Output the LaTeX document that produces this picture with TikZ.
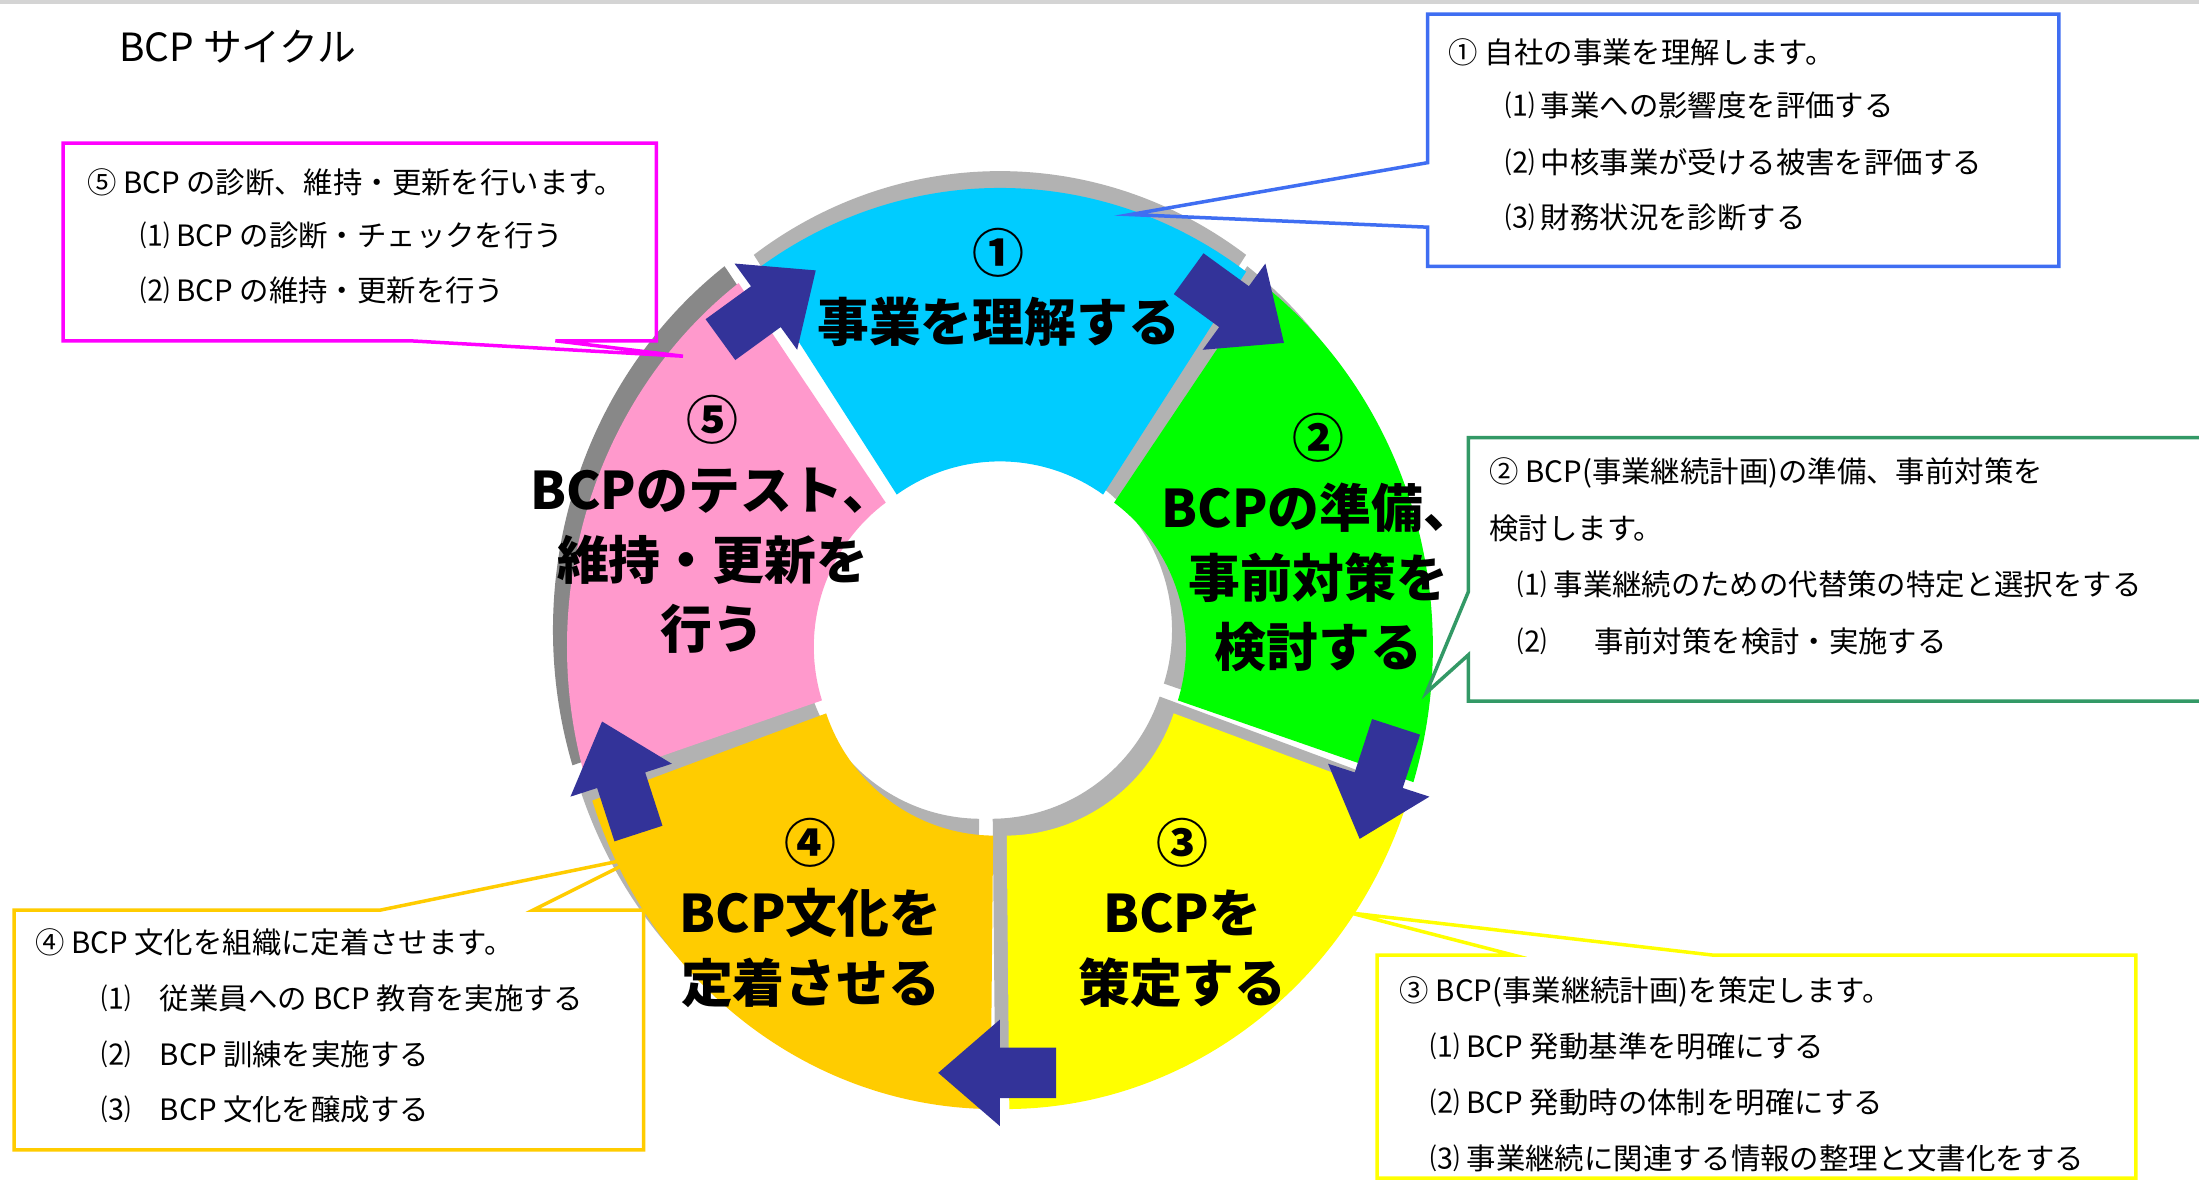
\documentclass[tikz,border=0pt]{standalone}
\usepackage{fontspec}
\setmainfont{Noto Sans CJK JP}
\definecolor{cyanseg}{HTML}{00CCFF}
\definecolor{greenseg}{HTML}{00FF00}
\definecolor{yellowseg}{HTML}{FFFF00}
\definecolor{orangeseg}{HTML}{FFCC00}
\definecolor{pinkseg}{HTML}{FF99CC}
\definecolor{arrowblue}{HTML}{333399}
\definecolor{shlight}{HTML}{B2B2B2}
\definecolor{shdark}{HTML}{888888}
\definecolor{bluebox}{HTML}{3F6EF2}
\definecolor{greenbox}{HTML}{339966}
\definecolor{yellowbox}{HTML}{FFFF00}
\definecolor{orangebox}{HTML}{FFCC00}
\definecolor{magentabox}{HTML}{FF00FF}
\definecolor{topgray}{HTML}{D4D4D4}
\tikzset{
  boxtext/.style={anchor=west, inner sep=0pt, font=\fontsize{29.5}{35}\selectfont},
  ringtext/.style={align=center, inner sep=0pt, font=\fontsize{52}{70}\selectfont\bfseries},
  titletext/.style={anchor=west, inner sep=0pt, font=\fontsize{39}{45}\selectfont},
  callout/.style={line width=3.5bp, line join=miter},
  blockarrow/.style={fill=arrowblue},
}
\begin{document}
\begin{tikzpicture}[x=1.4024bp, y=1.4024bp]
\fill[white] (0,0) rectangle (1568,843);
\useasboundingbox (0,0) rectangle (1568,843);
\fill[topgray] (0,840) rectangle (1568,843);

% title
\node[titletext] (title) at (85,810) {BCP サイクル};

% ring
\begin{scope}[shift={(713,380)}]
  % shadows (3D sides)
  \foreach \s/\m/\c/\dx in {54/90/shlight/0,126/162/shdark/-10,198/234/shlight/-10,270/306/shlight/-10,-18/18/shlight/-10}{
    \fill[\c, shift={(\m:6)}, shift={(\dx,12)}]
      (\s+0.6:303 and 323) arc[start angle=\s+0.6, end angle=\s+71.4, x radius=303, y radius=323]
      -- (\s+71.4:127 and 128) arc[start angle=\s+71.4, end angle=\s+0.6, x radius=127, y radius=128] -- cycle;
  }
  % coloured segments
  \foreach \s/\m/\c in {54/90/cyanseg,126/162/pinkseg,198/234/orangeseg,270/306/yellowseg,-18/18/greenseg}{
    \fill[\c, shift={(\m:6)}]
      (\s+0.6:303 and 323) arc[start angle=\s+0.6, end angle=\s+71.4, x radius=303, y radius=323]
      -- (\s+71.4:127 and 128) arc[start angle=\s+71.4, end angle=\s+0.6, x radius=127, y radius=128] -- cycle;
  }
  % block arrows (clockwise)
  \foreach \b in {126,54,-18,270,198}{
    \begin{scope}[shift={(\b:284 and 302)}, rotate=\b-90]
      \fill[blockarrow] (-40,-18) -- (0,-18) -- (0,-38) -- (44,0) -- (0,38) -- (0,18) -- (-40,18) -- cycle;
    \end{scope}
  }
\end{scope}

% ring labels
\node[ringtext] (t1) at (712,638) {①\\事業を理解する};
\node[ringtext] (t2) at (940,456) {②\\BCPの準備、\\事前対策を\\検討する};
\node[ringtext] (t3) at (843,192) {③\\BCPを\\策定する};
\node[ringtext] (t4) at (578,192) {④\\BCP文化を\\定着させる};
\node[ringtext] (t5) at (508,469) {⑤\\BCPのテスト、\\維持・更新を\\行う};

% callout tips
\coordinate (tip1) at (806,690);
\coordinate (tip2) at (1017,349);
\coordinate (tip3) at (963,192);
\coordinate (tip4) at (456,232);
\coordinate (tip5) at (487,589);

% callout outlines
\draw[callout, bluebox] (1018,833) -- (1468,833) -- (1468,653) -- (1018,653) -- (1018,681) -- (tip1) -- (1018,727) -- cycle;
\draw[callout, greenbox] (1047,531) -- (1580,531) -- (1580,343) -- (1047,343) -- (1047,376) -- (tip2) -- (1047,421) -- cycle;
\draw[callout, yellowbox] (982,162) -- (1079,162) -- (tip3) -- (1221,162) -- (1523,162) -- (1523,3) -- (982,3) -- cycle;
\draw[callout, orangebox] (10,194) -- (271,194) -- (tip4) -- (380,194) -- (459,194) -- (459,23) -- (10,23) -- cycle;
\draw[callout, magentabox] (45,741) -- (468,741) -- (468,600) -- (396,600) -- (tip5) -- (292,600) -- (45,600) -- cycle;

% box 1 text
\node[boxtext] (b1a) at (1033,806) {① 自社の事業を理解します。};
\node[boxtext] (b1b) at (1073,768) {⑴ 事業への影響度を評価する};
\node[boxtext] (b1c) at (1073,727) {⑵ 中核事業が受ける被害を評価する};
\node[boxtext] (b1d) at (1073,688) {⑶ 財務状況を診断する};

% box 5 text
\node[boxtext] (b5a) at (62,713) {⑤ BCP の診断、維持・更新を行います。};
\node[boxtext] (b5b) at (100,675) {⑴ BCP の診断・チェックを行う};
\node[boxtext] (b5c) at (100,636) {⑵ BCP の維持・更新を行う};

% box 2 text
\node[boxtext] (b2a) at (1062,506) {② BCP(事業継続計画)の準備、事前対策を};
\node[boxtext] (b2b) at (1062,466) {検討します。};
\node[boxtext] (b2c) at (1082,426) {⑴ 事業継続のための代替策の特定と選択をする};
\node[boxtext] (b2d) at (1082,386) {⑵　\hspace{0.6em}事前対策を検討・実施する};

% box 4 text
\node[boxtext] (b4a) at (25,171) {④ BCP 文化を組織に定着させます。};
\node[boxtext] (b4b) at (72,131) {⑴　従業員への BCP 教育を実施する};
\node[boxtext] (b4c) at (72,91) {⑵　BCP 訓練を実施する};
\node[boxtext] (b4d) at (72,52) {⑶　BCP 文化を醸成する};

% box 3 text
\node[boxtext] (b3a) at (998,136) {③ BCP(事業継続計画)を策定します。};
\node[boxtext] (b3b) at (1020,97) {⑴ BCP 発動基準を明確にする};
\node[boxtext] (b3c) at (1020,57) {⑵ BCP 発動時の体制を明確にする};
\node[boxtext] (b3d) at (1020,17) {⑶ 事業継続に関連する情報の整理と文書化をする};
\end{tikzpicture}
\end{document}
